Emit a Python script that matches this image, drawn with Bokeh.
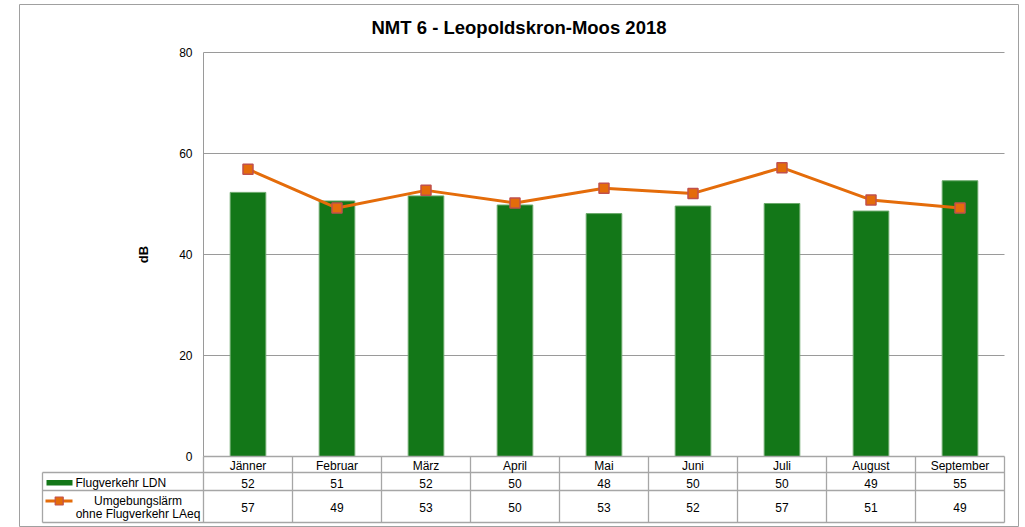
from bokeh.plotting import figure
from bokeh.models import Range1d, LinearAxis, FixedTicker
from bokeh.core.properties import value
from bokeh.embed import file_html
from bokeh.resources import INLINE

# ---------------- data ----------------
title = "NMT 6 - Leopoldskron-Moos 2018"
months = ["Jänner", "Februar", "März", "April", "Mai", "Juni", "Juli", "August", "September"]
ldn = [52.3, 50.6, 51.6, 49.8, 48.1, 49.6, 50.1, 48.6, 54.6]      # Flugverkehr LDN (bars)
laeq = [56.9, 49.2, 52.7, 50.2, 53.1, 52.1, 57.2, 50.8, 49.2]     # Umgebungslärm ohne Flugverkehr LAeq (line)
y_ticks = [0, 20, 40, 60, 80]
grid_ticks = [20, 40, 60, 80]
series1_name = "Flugverkehr LDN"
series2_name = ["Umgebungslärm", "ohne Flugverkehr LAeq"]
y_label = "dB"

# ---------------- layout (pixels) ----------------
W, H = 1025, 527
MB_L, MB_R, MB_T, MB_B = 19, 7, 4, 0
PAGE = 0
plot_left_px = 203.0
col_px = 89.0
y0_px, y80_px = 456.0, 52.0
ypx = (y0_px - y80_px) / 80.0

frame_left = PAGE + MB_L
frame_right = PAGE + W - MB_R
frame_top = PAGE + MB_T
frame_bottom = PAGE + H - MB_B

x_start = -(plot_left_px - frame_left) / col_px
x_end = (frame_right - plot_left_px) / col_px
y_end = (y0_px - frame_top) / ypx
y_start = -(frame_bottom - y0_px) / ypx


def Y(py):
    return -(py - y0_px) / ypx


def X(px):
    return (px - plot_left_px) / col_px


FONT = value("Liberation Sans")
GRID_C = "#9a9a9a"
TAB_C = "#a6a6a6"
GREEN = "#137718"
ORANGE = "#E46C0A"

p = figure(width=W, height=H, output_backend="svg", toolbar_location=None,
           x_range=Range1d(x_start, x_end), y_range=Range1d(y_start, y_end),
           x_axis_type=None, y_axis_type=None,
           min_border_left=MB_L, min_border_right=MB_R,
           min_border_top=MB_T, min_border_bottom=MB_B)
p.outline_line_color = "#a0a0a0"
p.outline_line_width = 1
p.background_fill_color = "white"
p.border_fill_color = "white"

n = len(months)
xs = [i + 0.5 for i in range(n)]

# gridlines
p.segment(x0=[0] * len(grid_ticks), x1=[n] * len(grid_ticks), y0=grid_ticks, y1=grid_ticks,
          line_color=GRID_C, line_width=1)

# y axis placed at x=0 inside the frame
ax = LinearAxis(fixed_location=0, bounds=(0, 80), ticker=FixedTicker(ticks=y_ticks),
                axis_label=y_label)
ax.axis_line_color = GRID_C
ax.major_tick_out = 0
ax.major_tick_in = 0
ax.minor_tick_out = 0
ax.minor_tick_in = 0
ax.major_label_standoff = 11
ax.major_label_text_font = "Liberation Sans"
ax.major_label_text_font_size = "12px"
ax.major_label_text_color = "black"
ax.axis_label_text_font = "Liberation Sans"
ax.axis_label_text_font_size = "13px"
ax.axis_label_text_font_style = "bold"
ax.axis_label_text_color = "black"
ax.axis_label_standoff = 25
p.add_layout(ax, "left")

# bars
p.vbar(x=xs, top=ldn, bottom=0, width=0.4, fill_color=GREEN, line_color="#6aa96a", line_width=1)

# line + markers
p.line(xs, laeq, line_color=ORANGE, line_width=3)
p.scatter(xs, laeq, marker="square", size=10, fill_color=ORANGE, line_color="#C0504D", line_width=1.5)

# title
p.text(x=[(x_start + x_end) / 2], y=[Y(27)], text=[title], text_font=FONT, text_font_size="18.5px",
       text_font_style="bold", text_align="center", text_baseline="middle", text_color="black")

# ---------------- data table ----------------
r1, r2, r3 = Y(472), Y(490), Y(522)
lab_x = X(42)
# horizontal lines
p.segment(x0=[0, lab_x, lab_x, lab_x], x1=[n, n, n, n], y0=[0, r1, r2, r3], y1=[0, r1, r2, r3],
          line_color=TAB_C, line_width=1.3)
# vertical lines
vx = list(range(0, n + 1))
p.segment(x0=vx, x1=vx, y0=[0] * len(vx), y1=[r3] * len(vx), line_color=TAB_C, line_width=1.3)
p.segment(x0=[lab_x], x1=[lab_x], y0=[r1], y1=[r3], line_color=TAB_C, line_width=1.3)

# category row
p.text(x=xs, y=[Y(465)] * n, text=months, text_font=FONT, text_font_size="12px",
       text_align="center", text_baseline="middle", text_color="black")
# values rows
p.text(x=xs, y=[Y(482.7)] * n, text=[f"{round(v):d}" for v in ldn], text_font=FONT,
       text_font_size="12px", text_align="center", text_baseline="middle", text_color="black")
p.text(x=xs, y=[Y(507)] * n, text=[f"{round(v):d}" for v in laeq], text_font=FONT,
       text_font_size="12px", text_align="center", text_baseline="middle", text_color="black")

# legend keys inside table
p.quad(left=[X(46)], right=[X(72)], top=[Y(479.5)], bottom=[Y(485)], fill_color=GREEN, line_color=None)
p.text(x=[X(75)], y=[Y(482.7)], text=[series1_name], text_font=FONT, text_font_size="12px",
       text_align="left", text_baseline="middle", text_color="black")
p.segment(x0=[X(45)], x1=[X(72)], y0=[Y(500.5)], y1=[Y(500.5)], line_color=ORANGE, line_width=3)
p.scatter(x=[X(58.7)], y=[Y(500.5)], marker="square", size=8, fill_color=ORANGE,
          line_color="#C0504D", line_width=1.2)
p.text(x=[X(137.5), X(137.5)], y=[Y(500), Y(513.7)], text=series2_name, text_font=FONT,
       text_font_size="12px", text_align="center", text_baseline="middle", text_color="black")

open("out.html", "w").write(file_html(p, INLINE))
